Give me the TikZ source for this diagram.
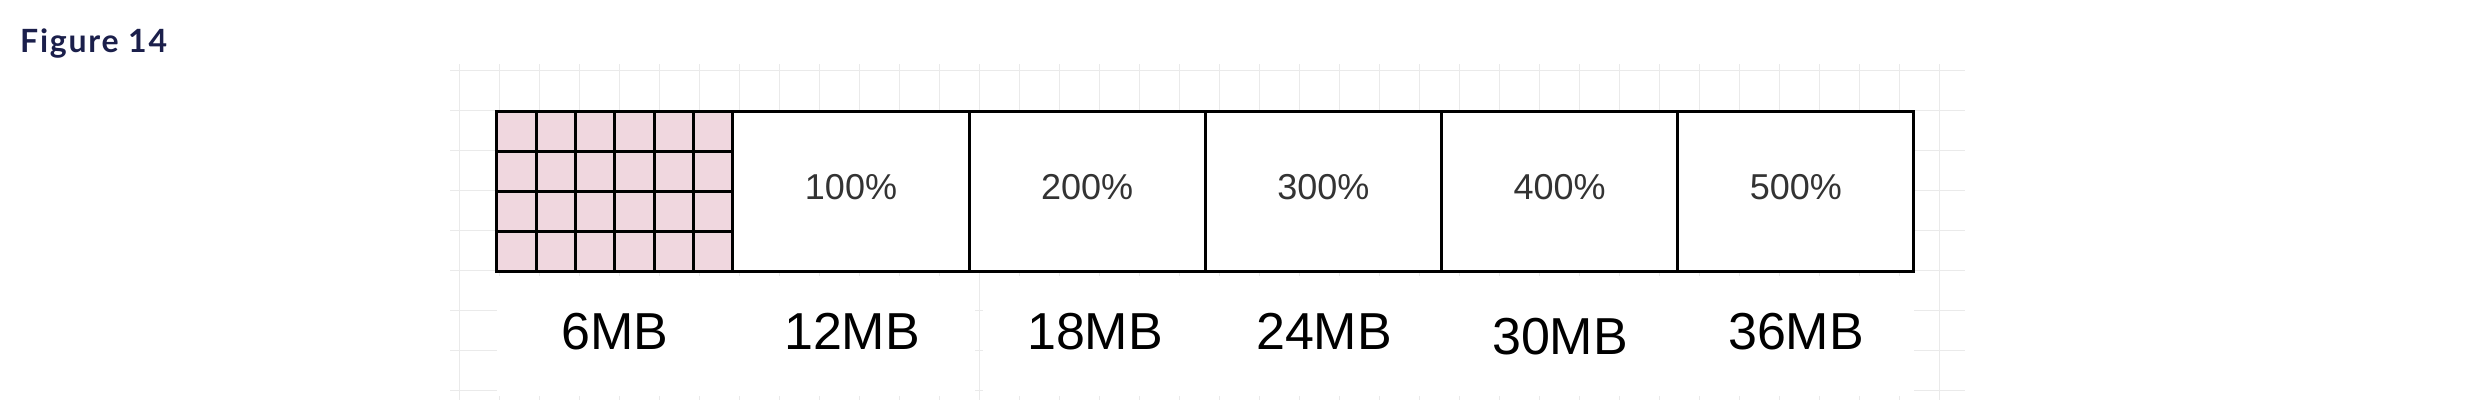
\documentclass[tikz,border=0pt]{standalone}
\usepackage{fontspec}
\setmainfont{Liberation Sans}
\newfontfamily\figfont{Lato}[LetterSpace=5.5]
\usetikzlibrary{positioning,calc}
\definecolor{cellpink}{RGB}{240,215,223}
\definecolor{gridgray}{RGB}{234,234,234}
\definecolor{titlenavy}{RGB}{27,31,75}
\tikzset{
  segbox/.style={rectangle,draw,fill=white,line width=3pt,outer sep=0pt,
    minimum width=236.2pt,minimum height=160pt,text depth=10pt,
    text=black!80,font=\fontsize{36}{40}\selectfont},
  sizelabel/.style={anchor=base,inner sep=0pt,font=\fontsize{52}{56}\selectfont},
  gridline/.style={gridgray,line width=1pt},
  cellline/.style={line width=3pt}
}

\begin{document}
\begin{tikzpicture}[x=1pt,y=-1pt]
  \useasboundingbox (0,0) rectangle (2472,408);
  % background grid
  \foreach \k in {0,...,37}
    \draw[gridline] (459+40*\k,64) -- (459+40*\k,400);
  \foreach \k in {0,...,8}
    \draw[gridline] (450,70.7+40*\k) -- (1965,70.7+40*\k);
  % white behind the size labels
  \fill[white] (497,276) rectangle (975,396);
  \fill[white] (983,276) rectangle (1914,396);

  \node[anchor=base west,inner sep=0pt,text=titlenavy,
    font=\figfont\bfseries\fontsize{32}{36}\selectfont] (fig) at (20,52.3) {Figure 14};

  \node[segbox,fill=cellpink] (seg1) at (614.8,191.7) {};
  \node[segbox,right=0pt of seg1] (seg2) {100\%};
  \node[segbox,right=0pt of seg2] (seg3) {200\%};
  \node[segbox,right=0pt of seg3] (seg4) {300\%};
  \node[segbox,right=0pt of seg4] (seg5) {400\%};
  \node[segbox,right=0pt of seg5] (seg6) {500\%};

  % cells of the first block
  \foreach \i in {1,...,5}
    \draw[cellline] ($(seg1.north west)!\i/6!(seg1.north east)$) -- ($(seg1.south west)!\i/6!(seg1.south east)$);
  \foreach \j in {1,2,3}
    \draw[cellline] ($(seg1.north west)!\j/4!(seg1.south west)$) -- ($(seg1.north east)!\j/4!(seg1.south east)$);

  % sizes
  \node[sizelabel] (mb6) at (615,349) {6MB};
  \node[sizelabel] (mb12) at (852,349) {12MB};
  \node[sizelabel] (mb18) at (1095,349) {18MB};
  \node[sizelabel] (mb24) at (1324,349) {24MB};
  \node[sizelabel] (mb30) at (1560,354) {30MB};
  \node[sizelabel] (mb36) at (1796,349) {36MB};
\end{tikzpicture}
\end{document}
